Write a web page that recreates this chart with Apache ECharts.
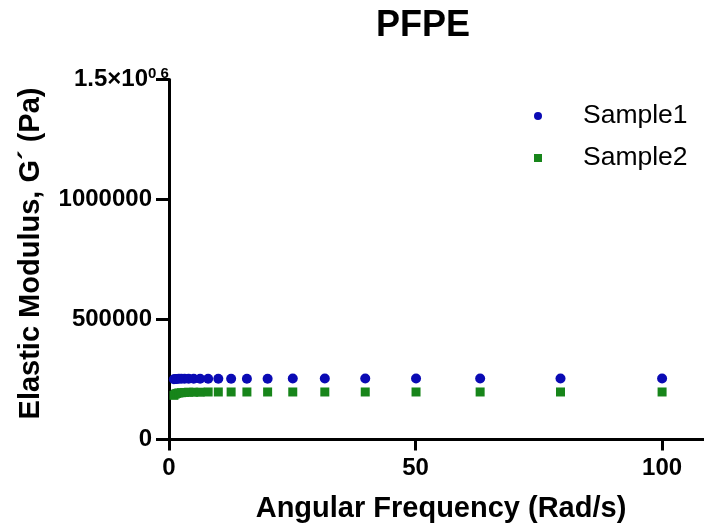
<!DOCTYPE html>
<html><head><meta charset="utf-8">
<script src="https://cdn.jsdelivr.net/npm/echarts@6/dist/echarts.min.js"></script>
<style>html,body{margin:0;padding:0;background:#fff}#c{width:704px;height:532px}</style>
</head><body><div id="c"></div>
<script>
const titleText = 'PFPE';
const xName = 'Angular Frequency (Rad/s)';
const yName = "Elastic Modulus, G\u00B4 (Pa)";
const seriesNames = ['Sample1', 'Sample2'];
const freq = [1.0, 1.26, 1.58, 2.0, 2.51, 3.16, 3.98, 5.01, 6.31, 7.94, 10.0, 12.6, 15.8, 20.0, 25.1, 31.6, 39.8, 50.1, 63.1, 79.4, 100];
const sample1 = [251000, 252000, 252000, 253000, 253000, 253000, 253000, 253000, 253000, 253000, 253000, 253000, 253000, 253000, 254000, 254000, 254000, 254000, 254000, 254000, 254000];
const sample2 = [184000, 189000, 192000, 194000, 195000, 196000, 197000, 197000, 197000, 198000, 198000, 198000, 198000, 198000, 198000, 198000, 198000, 198000, 198000, 198000, 198000];
const xTicks = [0, 50, 100];
const yTicks = [0, 500000, 1000000, 1500000];

const FONT = 'Liberation Sans, Arial, sans-serif';
const chart = echarts.init(document.getElementById('c'), null, {renderer: 'canvas'});
chart.setOption({
  backgroundColor: '#fff',
  animation: false,
  title: {text: titleText, left: 371, top: 3,
    textStyle: {fontFamily: FONT, fontWeight: 'bold', fontSize: 36, color: '#000'}},
  legend: {
    orient: 'vertical', left: 529, top: 96, itemGap: 12, itemWidth: 8, itemHeight: 8,
    data: [{name: seriesNames[0], icon: 'circle'}, {name: seriesNames[1], icon: 'rect'}],
    textStyle: {fontFamily: FONT, fontSize: 26.5, color: '#000', padding: [0, 0, 0, 36], lineHeight: 30}
  },
  grid: {left: 169, right: 0, top: 79.5, bottom: 92.5, containLabel: false},
  xAxis: {
    type: 'value', min: 0, max: 108.5,
    name: xName, nameLocation: 'middle', nameGap: 55,
    nameTextStyle: {fontFamily: FONT, fontWeight: 'bold', fontSize: 29, color: '#000', padding: [0, 0, 0, 9]},
    axisLine: {lineStyle: {color: '#000', width: 3}},
    axisTick: {show: true, length: 11, lineStyle: {color: '#000', width: 3}, customValues: xTicks},
    axisLabel: {customValues: xTicks, margin: 17, fontFamily: FONT, fontWeight: 'bold', fontSize: 24, color: '#000'},
    splitLine: {show: false}
  },
  yAxis: {
    type: 'value', min: 0, max: 1500000, interval: 500000,
    name: yName, nameLocation: 'middle', nameGap: 124,
    nameTextStyle: {fontFamily: FONT, fontWeight: 'bold', fontSize: 29, color: '#000', padding: [0, 0, 0, 12]},
    axisLine: {show: true, lineStyle: {color: '#000', width: 3}},
    axisTick: {show: true, length: 13, lineStyle: {color: '#000', width: 3}, customValues: yTicks},
    axisLabel: {
      customValues: yTicks, margin: 17, fontFamily: FONT, fontWeight: 'bold', fontSize: 24, color: '#000',
      formatter: v => v === 1500000 ? '{b|1.5×10}{s|    0 6}' : String(v),
      rich: {
        b: {fontFamily: FONT, fontWeight: 'bold', fontSize: 24, color: '#000'},
        s: {fontFamily: FONT, fontWeight: 'bold', fontSize: 15, color: '#000', width: 4, align: 'left', overflow: 'none', padding: [0, 0, 12, 0]}
      }
    },
    splitLine: {show: false}
  },
  series: [
    {name: seriesNames[0], type: 'scatter', symbol: 'circle', symbolSize: 10,
     itemStyle: {color: '#0a0ab4', opacity: 1}, data: freq.map((f, i) => [f, sample1[i]])},
    {name: seriesNames[1], type: 'scatter', symbol: 'rect', symbolSize: 9,
     itemStyle: {color: '#17851a', opacity: 1}, data: freq.map((f, i) => [f, sample2[i]])}
  ]
});
</script></body></html>
